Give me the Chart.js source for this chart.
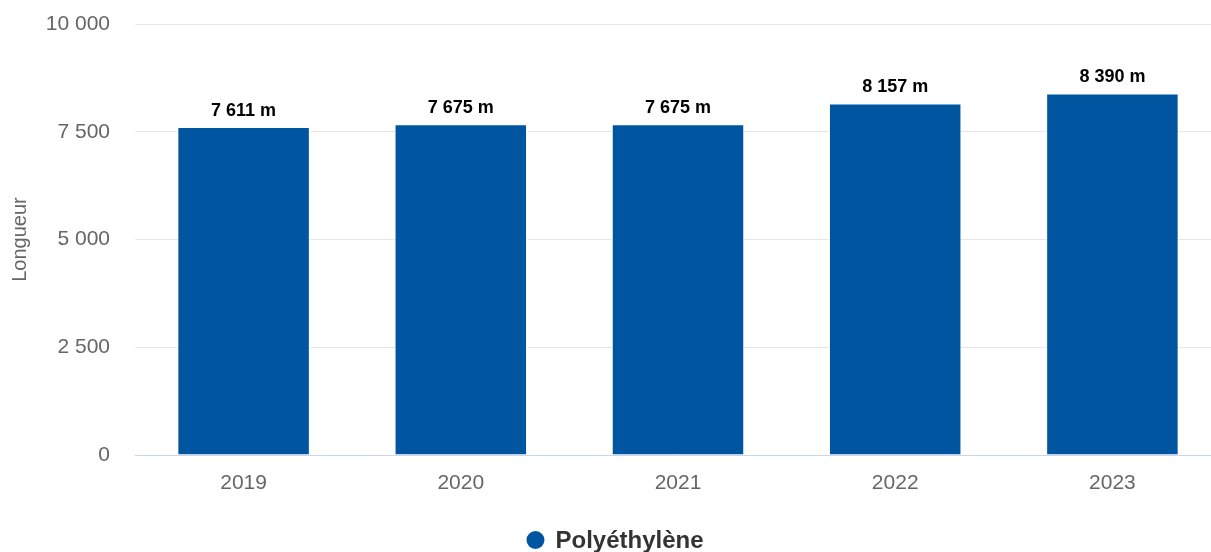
<!DOCTYPE html>
<html lang="fr">
<head>
<meta charset="utf-8">
<script src="https://cdn.jsdelivr.net/npm/chart.js@4/dist/chart.umd.min.js"></script>
<style>
  html, body { margin: 0; padding: 0; background: #fff; overflow: hidden; }
  #wrap { width: 1211px; height: 552px; overflow: hidden; }
</style>
</head>
<body>
<!-- the canvas is a little wider than the frame so the grid runs to the edge -->
<div id="wrap"><canvas id="lengthChart" width="1221" height="552"></canvas></div>
<script>
const years = ["2019", "2020", "2021", "2022", "2023"];
const lengths = [7611, 7675, 7675, 8157, 8390];
const yTicks = [0, 2500, 5000, 7500, 10000];
const seriesName = "Polyéthylène";
const axisTitle = "Longueur";

const barColor = "#0055a0";
const fontFamily = "Arial, 'Liberation Sans', sans-serif";

function spaced(n) {
    return String(n).replace(/\B(?=(\d{3})+(?!\d))/g, " ");
}

// value labels above each bar
const barLabels = {
    id: "barLabels",
    afterDatasetsDraw(chart) {
        const ctx = chart.ctx;
        const meta = chart.getDatasetMeta(0);
        ctx.save();
        ctx.font = "bold 18px " + fontFamily;
        ctx.fillStyle = "#000";
        ctx.textAlign = "center";
        ctx.textBaseline = "alphabetic";
        meta.data.forEach((bar, i) => {
            ctx.fillText(spaced(lengths[i]) + " m", bar.x, bar.y - 11);
        });
        ctx.restore();
    },
};

// legend drawn by hand under the axis
const bottomLegend = {
    id: "bottomLegend",
    afterDraw(chart) {
        const ctx = chart.ctx;
        ctx.save();
        ctx.font = "bold 24px " + fontFamily;
        const tw = ctx.measureText(seriesName).width;
        const total = 18 + 11 + tw;
        const x0 = 615 - total / 2;
        const y = 540;
        ctx.fillStyle = barColor;
        ctx.beginPath();
        ctx.arc(x0 + 9, y, 9, 0, Math.PI * 2);
        ctx.fill();
        ctx.fillStyle = "#333";
        ctx.textBaseline = "middle";
        ctx.fillText(seriesName, x0 + 29, y + 1);
        ctx.restore();
    },
};

new Chart(document.getElementById("lengthChart"), {
    type: "bar",
    data: {
        labels: years,
        datasets: [
            {
                label: seriesName,
                data: lengths,
                backgroundColor: barColor,
                borderColor: "#fff",
                borderWidth: 1,
                categoryPercentage: 1,
                barPercentage: 0.61,
            },
        ],
    },
    options: {
        responsive: false,
        animation: false,
        layout: {
            padding: { left: 0, right: 0, top: 24, bottom: 37 },
        },
        plugins: {
            legend: { display: false },
            tooltip: { enabled: false },
        },
        scales: {
            x: {
                grid: { display: false, drawTicks: false },
                border: { color: "#ccd6eb", width: 1 },
                ticks: {
                    color: "#666",
                    padding: 16,
                    font: { size: 21, family: fontFamily },
                },
                afterFit(scale) {
                    scale.height = 60;
                    scale.paddingLeft = 0;
                    scale.paddingRight = 0;
                },
            },
            y: {
                min: 0,
                max: 10000,
                afterBuildTicks(scale) {
                    scale.ticks = yTicks.map((v) => ({ value: v }));
                },
                grid: { color: "#e6e6e6", drawTicks: false },
                border: { display: false },
                ticks: {
                    color: "#666",
                    padding: 25,
                    font: { size: 21, family: fontFamily },
                    callback: (v) => spaced(v),
                },
                title: {
                    display: true,
                    text: axisTitle,
                    color: "#666",
                    padding: { top: 8, bottom: 0 },
                    font: { size: 20, family: fontFamily },
                },
                afterFit(scale) {
                    scale.width = 135;
                    scale.paddingTop = 0;
                    scale.paddingBottom = 0;
                },
            },
        },
    },
    plugins: [barLabels, bottomLegend],
});
</script>
</body>
</html>
